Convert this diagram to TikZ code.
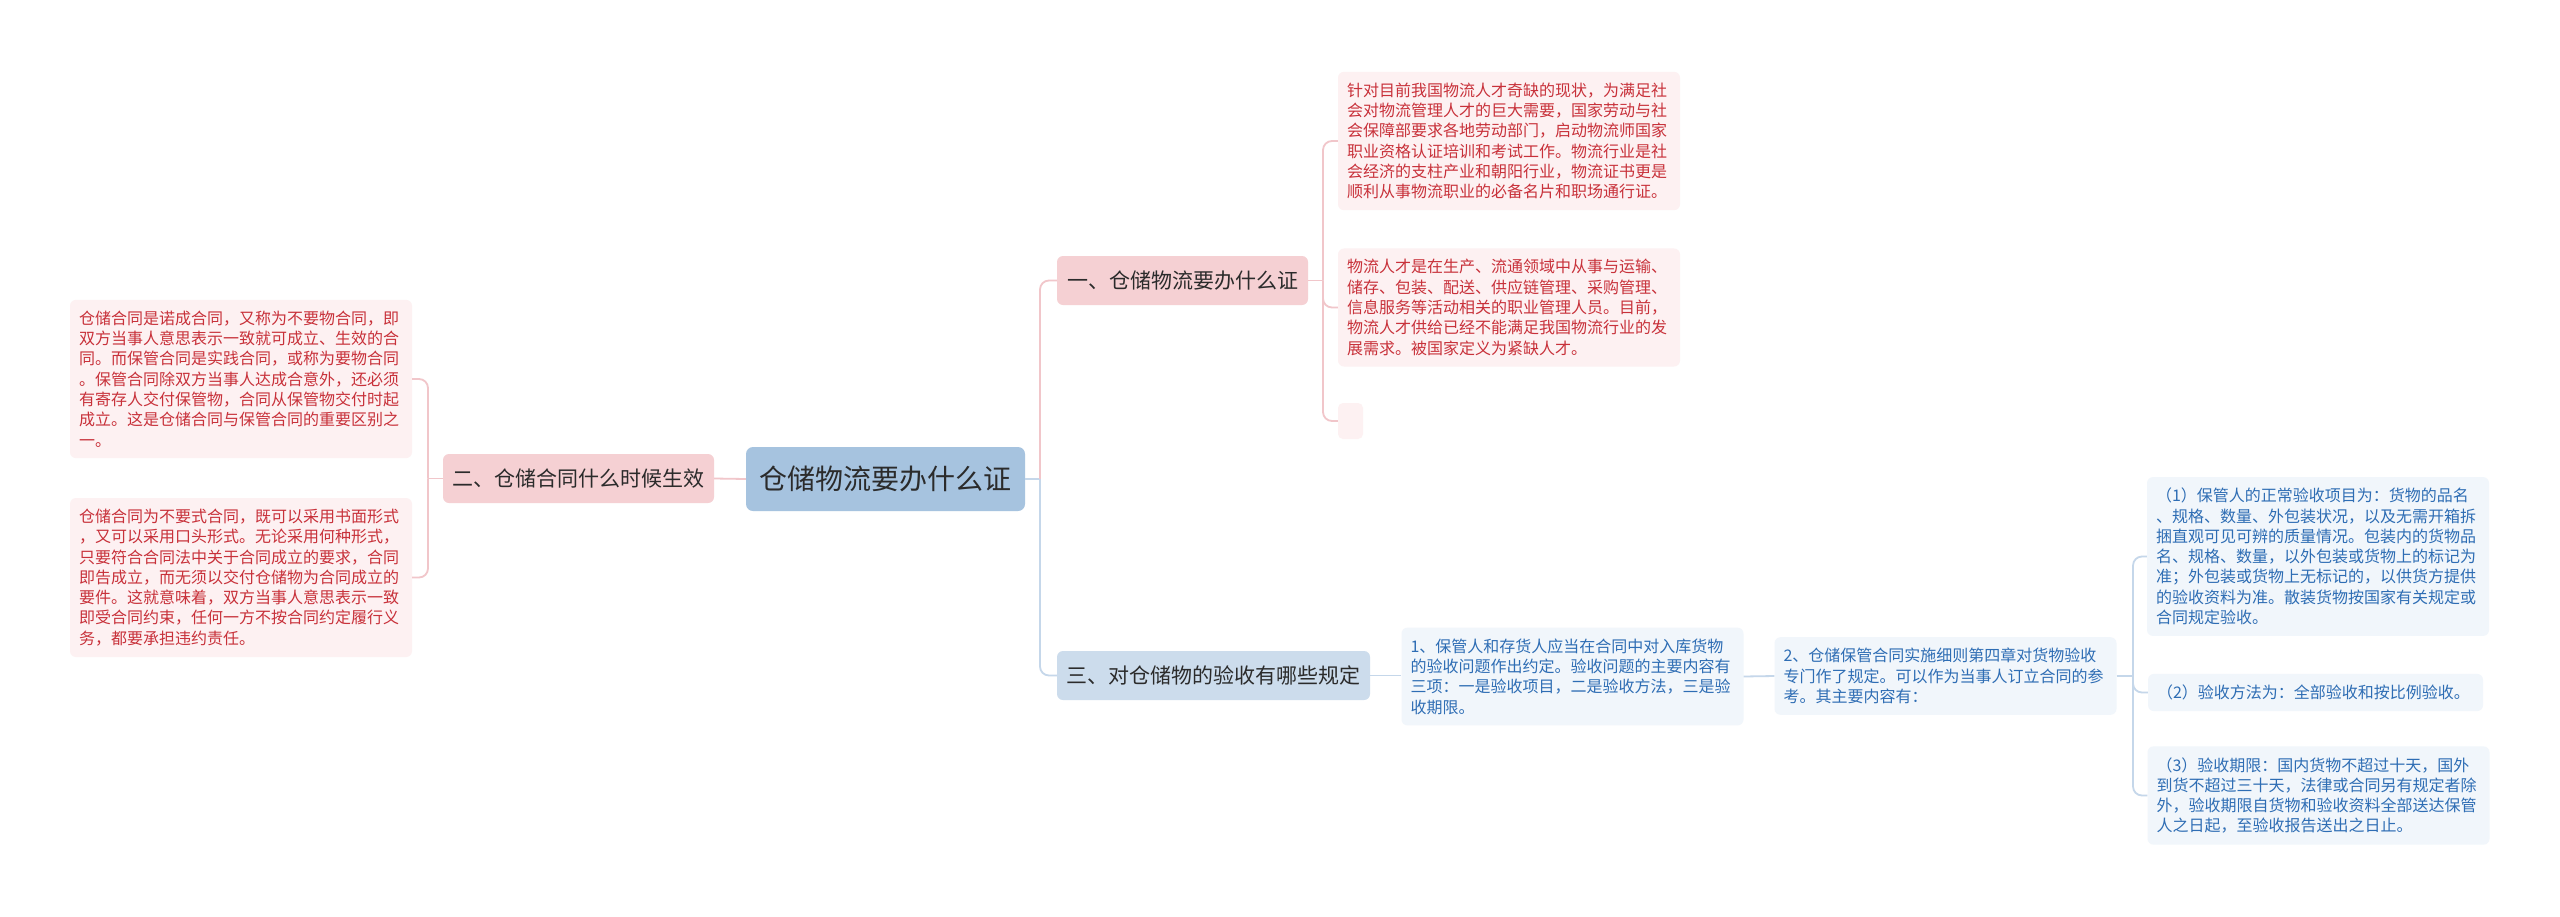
\documentclass[tikz,border=0pt]{standalone}
\usepackage{fontspec}
\setmainfont{Noto Sans CJK SC}
\usepackage{xcolor}
\usepackage{tikz}
\usetikzlibrary{positioning}

\definecolor{rootfill}{HTML}{A6C3DF}
\definecolor{pinkfill}{HTML}{F5D0D3}
\definecolor{bluefill}{HTML}{CCDCEC}
\definecolor{pinkleaffill}{HTML}{FDF1F2}
\definecolor{blueleaffill}{HTML}{F1F6FB}
\definecolor{pinktext}{HTML}{C8313A}
\definecolor{bluetext}{HTML}{2E6DB4}
\definecolor{titletext}{HTML}{2B2B2B}
\definecolor{pinkline}{HTML}{F1C6CA}
\definecolor{blueline}{HTML}{C5D7EA}

\begin{document}
\begin{tikzpicture}[x=1pt, y=-1pt,
  root/.style={rectangle, fill=rootfill, rounded corners=7pt, minimum width=279pt, minimum height=64pt, inner sep=0pt, text=titletext, font={\fontsize{28}{32}\selectfont}},
  branch/.style={rectangle, rounded corners=6pt, minimum height=49pt, inner sep=0pt, text=titletext, font={\fontsize{21}{25}\selectfont}},
  pinkbranch/.style={branch, fill=pinkfill},
  bluebranch/.style={branch, fill=bluefill},
  leaf/.style={rectangle, rounded corners=6pt, text width=324pt, inner xsep=9pt, inner ysep=11pt, align=left, font={\fontsize{16}{20.3}\selectfont}},
  pinkleaf/.style={leaf, fill=pinkleaffill, text=pinktext},
  blueleaf/.style={leaf, fill=blueleaffill, text=bluetext},
  pinklink/.style={draw=pinkline, line width=1.8pt, rounded corners=9pt},
  bluelink/.style={draw=blueline, line width=1.8pt, rounded corners=9pt}]
\useasboundingbox[fill=white] (0,0) rectangle (2560,916);

% root and main branches
\node [root] (root) at (885.5,479) {仓储物流要办什么证};
\node [pinkbranch, minimum width=251pt] (b1) at (1182.5,280.5) {一、仓储物流要办什么证};
\node [pinkbranch, minimum width=271pt] (b2) at (578.5,478.5) {二、仓储合同什么时候生效};
\node [bluebranch, minimum width=313pt] (b3) at (1213.5,675.5) {三、对仓储物的验收有哪些规定};

% branch 1
\node [pinkleaf] (l1a) at (1509,141) {针对目前我国物流人才奇缺的现状，为满足社\\会对物流管理人才的巨大需要，国家劳动与社\\会保障部要求各地劳动部门，启动物流师国家\\职业资格认证培训和考试工作。物流行业是社\\会经济的支柱产业和朝阳行业，物流证书更是\\顺利从事物流职业的必备名片和职场通行证。};
\node [pinkleaf] (l1b) at (1509,307.5) {物流人才是在生产、流通领域中从事与运输、\\储存、包装、配送、供应链管理、采购管理、\\信息服务等活动相关的职业管理人员。目前，\\物流人才供给已经不能满足我国物流行业的发\\展需求。被国家定义为紧缺人才。};
\node [rectangle, rounded corners=5pt, fill=pinkleaffill, minimum width=25pt, minimum height=36pt, inner sep=0pt] (l1c) at (1350.5,421) {};

% branch 2
\node [pinkleaf] (l2a) at (241,379) {仓储合同是诺成合同，又称为不要物合同，即\\双方当事人意思表示一致就可成立、生效的合\\同。而保管合同是实践合同，或称为要物合同\\。保管合同除双方当事人达成合意外，还必须\\有寄存人交付保管物，合同从保管物交付时起\\成立。这是仓储合同与保管合同的重要区别之\\一。};
\node [pinkleaf] (l2b) at (241,577.5) {仓储合同为不要式合同，既可以采用书面形式\\，又可以采用口头形式。无论采用何种形式，\\只要符合合同法中关于合同成立的要求，合同\\即告成立，而无须以交付仓储物为合同成立的\\要件。这就意味着，双方当事人意思表示一致\\即受合同约束，任何一方不按合同约定履行义\\务，都要承担违约责任。};

% branch 3
\node [blueleaf] (l3a) at (1572.5,676.5) {1、保管人和存货人应当在合同中对入库货物\\的验收问题作出约定。验收问题的主要内容有\\三项：一是验收项目，二是验收方法，三是验\\收期限。};
\node [blueleaf] (l3b) at (1945.5,676) {2、仓储保管合同实施细则第四章对货物验收\\专门作了规定。可以作为当事人订立合同的参\\考。其主要内容有：};
\node [blueleaf] (l3c) at (2318,556.5) {（1）保管人的正常验收项目为：货物的品名\\、规格、数量、外包装状况，以及无需开箱拆\\捆直观可见可辨的质量情况。包装内的货物品\\名、规格、数量，以外包装或货物上的标记为\\准；外包装或货物上无标记的，以供货方提供\\的验收资料为准。散装货物按国家有关规定或\\合同规定验收。};
\node [blueleaf, text width=317pt] (l3d) at (2315.5,692.5) {（2）验收方法为：全部验收和按比例验收。};
\node [blueleaf] (l3e) at (2318.5,795.5) {（3）验收期限：国内货物不超过十天，国外\\到货不超过三十天，法律或合同另有规定者除\\外，验收期限自货物和验收资料全部送达保管\\人之日起，至验收报告送出之日止。};

% junctions
\coordinate (j0) at (1040,479);
\coordinate (j1) at (1323,280.5);
\coordinate (j2) at (428,478.5);
\coordinate (j3) at (2133,676);

% connectors
\draw [bluelink] (root.east) -- (j0);
\draw [pinklink] (j0) |- (b1.west);
\draw [bluelink] (j0) |- (b3.west);
\draw [pinklink] (root.west) -- (b2.east);
\draw [pinklink] (b1.east) -- (j1);
\draw [pinklink] (j1) |- (l1a.west);
\draw [pinklink] (j1) |- (l1b.west);
\draw [pinklink] (j1) |- (l1c.west);
\draw [pinklink] (b2.west) -- (j2);
\draw [pinklink] (j2) |- (l2a.east);
\draw [pinklink] (j2) |- (l2b.east);
\draw [bluelink] (b3.east) -- (l3a.west |- b3.east);
\draw [bluelink] (l3a.east) -- (l3b.west);
\draw [bluelink] (l3b.east) -- (j3);
\draw [bluelink] (j3) |- (l3c.west);
\draw [bluelink] (j3) |- (l3d.west);
\draw [bluelink] (j3) |- (l3e.west);
\end{tikzpicture}
\end{document}
